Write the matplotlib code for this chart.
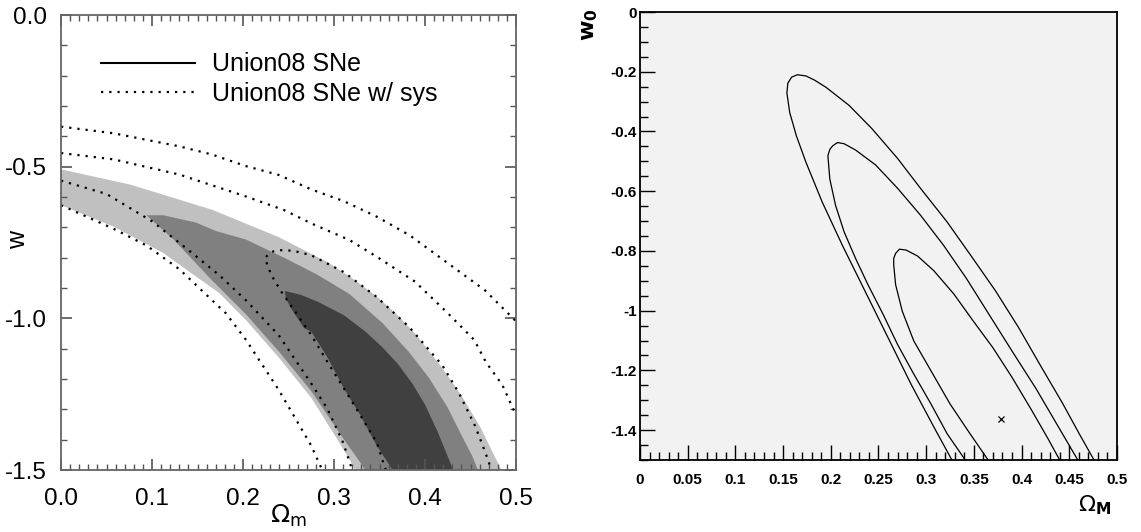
import numpy as np
import matplotlib
matplotlib.use("Agg")
import matplotlib.pyplot as plt
from matplotlib.lines import Line2D
from matplotlib.ticker import MultipleLocator, FuncFormatter

plt.rcParams['font.family'] = ['Liberation Sans', 'DejaVu Sans']

# ---- left panel: Union08 SNe confidence regions (Omega_m, w)
light_up_om = [0.0, 0.076, 0.166, 0.239, 0.293, 0.32, 0.347, 0.37, 0.389, 0.418, 0.44, 0.461, 0.474, 0.484]
light_up_w = [-0.509, -0.559, -0.642, -0.732, -0.815, -0.868, -0.928, -0.99, -1.05, -1.16, -1.255, -1.36, -1.44, -1.5]
light_lo_om = [0.0, 0.058, 0.112, 0.174, 0.203, 0.239, 0.275, 0.303, 0.318, 0.323]
light_lo_w = [-0.627, -0.698, -0.784, -0.917, -1.005, -1.128, -1.262, -1.396, -1.47, -1.5]

mid_up_om = [0.094, 0.112, 0.148, 0.17, 0.203, 0.245, 0.281, 0.317, 0.353, 0.382, 0.404, 0.425, 0.44, 0.452, 0.458]
mid_up_w = [-0.66, -0.66, -0.684, -0.712, -0.74, -0.8, -0.855, -0.92, -1.015, -1.11, -1.195, -1.295, -1.385, -1.455, -1.5]
mid_lo_om = [0.094, 0.105, 0.123, 0.166, 0.203, 0.239, 0.275, 0.311, 0.33, 0.334]
mid_lo_w = [-0.66, -0.69, -0.738, -0.875, -0.986, -1.108, -1.24, -1.4, -1.48, -1.5]

dark_up_om = [0.246, 0.263, 0.282, 0.311, 0.335, 0.353, 0.37, 0.386, 0.4, 0.414, 0.425, 0.431]
dark_up_w = [-0.91, -0.922, -0.945, -0.99, -1.045, -1.095, -1.15, -1.215, -1.285, -1.375, -1.456, -1.5]
dark_lo_om = [0.246, 0.247, 0.253, 0.267, 0.275, 0.293, 0.311, 0.329, 0.347, 0.36, 0.364]
dark_lo_w = [-0.91, -0.935, -0.968, -1.032, -1.044, -1.13, -1.232, -1.32, -1.42, -1.48, -1.5]

# with systematics (dotted)
sys_a_om = [0.0, 0.058, 0.13, 0.166, 0.203, 0.239, 0.275, 0.311, 0.347, 0.383, 0.419, 0.466, 0.5]
sys_a_w = [-0.368, -0.39, -0.433, -0.46, -0.498, -0.527, -0.575, -0.614, -0.665, -0.726, -0.805, -0.908, -1.01]
sys_b_om = [0.0, 0.058, 0.13, 0.203, 0.245, 0.275, 0.317, 0.347, 0.389, 0.425, 0.454, 0.467, 0.485, 0.5]
sys_b_w = [-0.455, -0.476, -0.526, -0.598, -0.643, -0.687, -0.742, -0.797, -0.879, -0.983, -1.071, -1.145, -1.22, -1.32]
sys_c_om = [0.0, 0.05, 0.1, 0.138, 0.174, 0.203, 0.239, 0.275, 0.293, 0.31, 0.32]
sys_c_w = [-0.546, -0.59, -0.68, -0.77, -0.858, -0.94, -1.055, -1.215, -1.3, -1.41, -1.5]
sys_d_om = [0.0, 0.058, 0.094, 0.13, 0.181, 0.203, 0.239, 0.275, 0.287]
sys_d_w = [-0.627, -0.705, -0.76, -0.838, -0.983, -1.07, -1.235, -1.42, -1.5]
sys_e_om = [0.357, 0.354, 0.347, 0.329, 0.311, 0.293, 0.275, 0.26, 0.242, 0.231, 0.224, 0.23, 0.239, 0.255,
            0.275, 0.311, 0.347, 0.383, 0.419, 0.437, 0.455, 0.466, 0.473]
sys_e_w = [-1.5, -1.475, -1.41, -1.32, -1.232, -1.145, -1.055, -0.99, -0.912, -0.857, -0.802, -0.782, -0.775, -0.777,
           -0.792, -0.848, -0.93, -1.03, -1.155, -1.245, -1.355, -1.44, -1.5]

legend_labels = ['Union08 SNe', 'Union08 SNe w/ sys']

# ---- right panel: contours in (Omega_M, w0)
outer_om = [0.327, 0.308, 0.284, 0.260, 0.236, 0.212, 0.191, 0.174, 0.164, 0.157, 0.154, 0.155, 0.159, 0.165,
            0.174, 0.183, 0.195, 0.219, 0.243, 0.270, 0.294, 0.322, 0.349, 0.373, 0.397, 0.421, 0.443, 0.461, 0.476]
outer_w = [-1.5, -1.389, -1.245, -1.090, -0.935, -0.780, -0.636, -0.503, -0.415, -0.337, -0.271, -0.238, -0.218, -0.21,
           -0.214, -0.228, -0.252, -0.312, -0.39, -0.49, -0.59, -0.703, -0.825, -0.935, -1.057, -1.19, -1.31, -1.415, -1.5]
middle_om = [0.341, 0.322, 0.305, 0.287, 0.270, 0.255, 0.239, 0.226, 0.214, 0.205, 0.199, 0.197, 0.199, 0.202, 0.207,
             0.214, 0.226, 0.247, 0.270, 0.294, 0.318, 0.342, 0.366, 0.390, 0.415, 0.437, 0.459]
middle_w = [-1.5, -1.412, -1.312, -1.212, -1.113, -1.013, -0.913, -0.825, -0.736, -0.647, -0.559, -0.481, -0.46, -0.448,
            -0.437, -0.441, -0.462, -0.512, -0.59, -0.68, -0.780, -0.891, -1.013, -1.135, -1.26, -1.38, -1.5]
inner_om = [0.365, 0.346, 0.325, 0.305, 0.287, 0.275, 0.268, 0.266, 0.266, 0.268, 0.272, 0.279, 0.291, 0.308, 0.329,
            0.349, 0.370, 0.390, 0.41, 0.428, 0.44]
inner_w = [-1.5, -1.412, -1.312, -1.201, -1.101, -1.002, -0.913, -0.847, -0.825, -0.808, -0.794, -0.797, -0.817, -0.866,
           -0.944, -1.033, -1.124, -1.223, -1.33, -1.43, -1.5]
best_om = [0.378]
best_w = [-1.363]

fig = plt.figure(figsize=(11.41, 5.32), dpi=100)

# ================= left =================
ax = fig.add_axes([0.0535, 0.1165, 0.3988, 0.8553])
ax.fill(light_up_om + light_lo_om[::-1], light_up_w + light_lo_w[::-1], color='#c0c0c0', lw=0)
ax.fill(mid_up_om + mid_lo_om[::-1], mid_up_w + mid_lo_w[::-1], color='#808080', lw=0)
ax.fill(dark_up_om + dark_lo_om[::-1], dark_up_w + dark_lo_w[::-1], color='#404040', lw=0)

dot = (0, (1, 2.7))
for xs, ys in [(sys_a_om, sys_a_w), (sys_b_om, sys_b_w), (sys_c_om, sys_c_w),
               (sys_d_om, sys_d_w), (sys_e_om, sys_e_w)]:
    ax.plot(xs, ys, color='k', lw=1.6, ls=dot)

ax.set_xlim(0, 0.5)
ax.set_ylim(-1.5, 0.0)
ax.xaxis.set_major_locator(MultipleLocator(0.1))
ax.xaxis.set_minor_locator(MultipleLocator(0.01))
ax.yaxis.set_major_locator(MultipleLocator(0.5))
ax.yaxis.set_minor_locator(MultipleLocator(0.1))
ax.xaxis.set_major_formatter(FuncFormatter(lambda v, p: '%.1f' % v))
ax.yaxis.set_major_formatter(FuncFormatter(lambda v, p: ('%.1f' % v).replace('-0.0', '0.0')))
ax.tick_params(which='both', direction='in', top=True, right=True, color='#555555', labelsize=17.5)
ax.tick_params(which='major', length=8, width=1.2)
ax.tick_params(which='minor', length=4, width=1.0)
ax.tick_params(axis='x', pad=13)
ax.tick_params(axis='y', pad=10)
for s in ax.spines.values():
    s.set_color('#666666')
    s.set_linewidth(1.3)

ax.set_ylabel('w', fontsize=18)
ax.yaxis.set_label_coords(-0.095, 0.505)
ax.yaxis.label.set_va('center')
ax.set_xlabel(r'$\Omega_{\rm m}$', fontsize=18)
ax.xaxis.set_label_coords(0.5, -0.072)
ax.xaxis.label.set_va('top')

handles = [Line2D([], [], color='k', lw=1.5),
           Line2D([], [], color='k', lw=1.6, ls=dot)]
ax.legend(handles, legend_labels, loc='upper left', bbox_to_anchor=(0.088, 0.918),
          frameon=False, fontsize=18, handlelength=3.75, handletextpad=0.7,
          labelspacing=0.22, borderpad=0, borderaxespad=0)

# ================= right =================
bx = fig.add_axes([0.5609, 0.1353, 0.418, 0.8421])
bx.set_facecolor('#f2f2f2')
for xs, ys in [(outer_om, outer_w), (middle_om, middle_w), (inner_om, inner_w)]:
    bx.plot(xs, ys, color='k', lw=0.9)
bx.plot(best_om, best_w, 'x', color='k', ms=5, mew=0.9)

bx.set_xlim(0, 0.5)
bx.set_ylim(-1.5, 0.0)
bx.xaxis.set_major_locator(MultipleLocator(0.05))
bx.xaxis.set_minor_locator(MultipleLocator(0.01))
bx.yaxis.set_major_locator(MultipleLocator(0.2))
bx.yaxis.set_minor_locator(MultipleLocator(0.05))
bx.xaxis.set_major_formatter(FuncFormatter(lambda v, p: '%g' % round(v, 3)))
bx.yaxis.set_major_formatter(FuncFormatter(lambda v, p: '%g' % round(v, 3) if abs(v) > 1e-9 else '0'))
bx.tick_params(which='both', direction='in', top=False, right=False, color='k', labelsize=11)
bx.tick_params(which='major', length=11, width=1.0)
bx.tick_params(which='minor', length=5.5, width=1.0)
bx.tick_params(axis='x', pad=9)
bx.tick_params(axis='y', pad=2.5)
for lab in bx.get_xticklabels() + bx.get_yticklabels():
    lab.set_fontweight('bold')
for s in bx.spines.values():
    s.set_color('k')
    s.set_linewidth(1.3)

bx.text(0.987, -0.074, r'$\Omega_\mathbf{M}$', transform=bx.transAxes, ha='right', va='top', fontsize=16)
bx.text(-0.105, 0.973, r'$\mathbf{w_0}$', transform=bx.transAxes, ha='center', va='center',
        rotation=90, fontsize=16)

fig.savefig('out.png', dpi=100, facecolor='white')
